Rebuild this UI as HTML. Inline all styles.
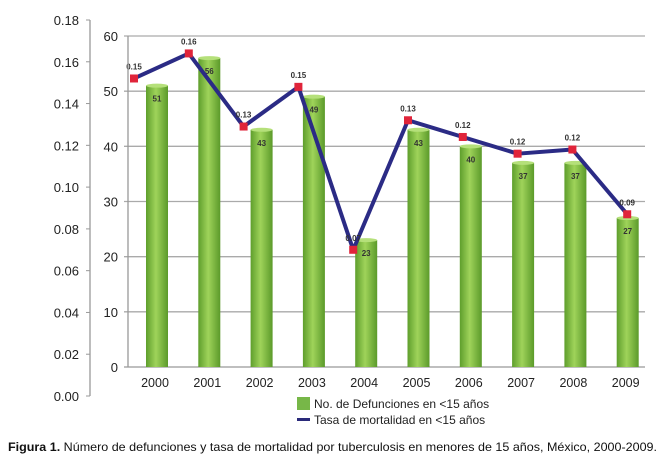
<!DOCTYPE html>
<html><head><meta charset="utf-8"><style>
body{margin:0;background:#fff;width:664px;height:461px;overflow:hidden;font-family:"Liberation Sans",Arial,sans-serif}
</style></head><body>
<svg id="chart" width="664" height="461" xmlns="http://www.w3.org/2000/svg">
<defs><linearGradient id="bg" x1="0" x2="1" y1="0" y2="0"><stop offset="0" stop-color="#5e9e2c"/><stop offset="0.45" stop-color="#9fd35a"/><stop offset="1" stop-color="#5b9a2a"/></linearGradient></defs>
<g id="grid"></g><g id="bars"></g><g id="line"></g><g id="axes"></g>
<rect x="297" y="397" width="13" height="13" fill="#77b748"/>
<text x="314" y="408" font-size="12" fill="#222">No. de Defunciones en &lt;15 años</text>
<rect x="297" y="418" width="13" height="3" fill="#2a2a7a"/>
<text x="314" y="424" font-size="12" fill="#222">Tasa de mortalidad en &lt;15 años</text>
<text x="8" y="451" font-size="12" fill="#111" textLength="649" lengthAdjust="spacingAndGlyphs"><tspan font-weight="bold">Figura 1.</tspan> Número de defunciones y tasa de mortalidad por tuberculosis en menores de 15 años, México, 2000-2009.</text>
</svg>
<script>
const years=["2000","2001","2002","2003","2004","2005","2006","2007","2008","2009"];
const deaths=[51,56,43,49,23,43,40,37,37,27];
const rates=[0.152,0.164,0.129,0.148,0.070,0.132,0.124,0.116,0.118,0.087];
const rateLabels=["0.15","0.16","0.13","0.15","0.07","0.13","0.12","0.12","0.12","0.09"];
const leftTicks=[0,0.02,0.04,0.06,0.08,0.10,0.12,0.14,0.16,0.18];
const rightTicks=[0,10,20,30,40,50,60];
const NS="http://www.w3.org/2000/svg";
function mk(p,t,a){const e=document.createElementNS(NS,t);for(const k in a)e.setAttribute(k,a[k]);p.appendChild(e);return e;}
const yL=v=>396-v/0.18*376;
const yD=v=>367-v*(331/60);
const xB=i=>157+i*52.3;
const xP=i=>134+i*54.8;
const grid=document.getElementById('grid'),bars=document.getElementById('bars'),line=document.getElementById('line'),axes=document.getElementById('axes');
rightTicks.forEach(t=>{
 const g=mk(grid,'line',{x1:124,x2:645,y1:yD(t),y2:yD(t),stroke:t===0?'#999':'#aaa','stroke-width':1.3});
 
 
 const l=mk(axes,'text',{x:118,y:yD(t)+5,'text-anchor':'end','font-size':13,fill:'#222'});l.textContent=t;
 
 
});
mk(axes,'line',{x1:128,x2:128,y1:yD(60),y2:yD(0),stroke:'#999','stroke-width':1.3});
mk(axes,'line',{x1:90,x2:90,y1:yL(0.18),y2:yL(0),stroke:'#999','stroke-width':1.3});
leftTicks.forEach(t=>{
 mk(axes,'line',{x1:86,x2:90,y1:yL(t),y2:yL(t),stroke:'#999'});
 const l=mk(axes,'text',{x:79,y:yL(t)+5,'text-anchor':'end','font-size':13,fill:'#222'});l.textContent=t.toFixed(2);
 
 
});
years.forEach((y,i)=>{
 const t=mk(axes,'text',{x:xB(i)-2,y:387,'text-anchor':'middle','font-size':12.5,fill:'#222'});t.textContent=y;
 
 
 const b=mk(bars,'rect',{x:xB(i)-11,y:yD(deaths[i]),width:22,height:yD(0)-yD(deaths[i]),fill:'url(#bg)'});
 
 
 mk(bars,'ellipse',{cx:xB(i),cy:yD(deaths[i]),rx:11,ry:2,fill:'#b5e07a'});
 const v=mk(bars,'text',{x:xB(i),y:yD(deaths[i])+16,'text-anchor':'middle','font-size':8,'font-weight':'bold',fill:'#333'});v.textContent=deaths[i];
 
 
});
const pl=mk(line,'polyline',{points:rates.map((r,i)=>xP(i)+','+yL(r)).join(' '),fill:'none',stroke:'#2b2b85','stroke-width':4,'stroke-linejoin':'round'});


rates.forEach((r,i)=>{
 const m=mk(line,'rect',{x:xP(i)-4,y:yL(r)-4,width:8,height:8,fill:'#e0243a'});
 
 
 const t=mk(line,'text',{x:xP(i),y:yL(r)-9,'text-anchor':'middle','font-size':8,'font-weight':'bold',fill:'#333'});t.textContent=rateLabels[i];
 
 
});
</script>
</body></html>
